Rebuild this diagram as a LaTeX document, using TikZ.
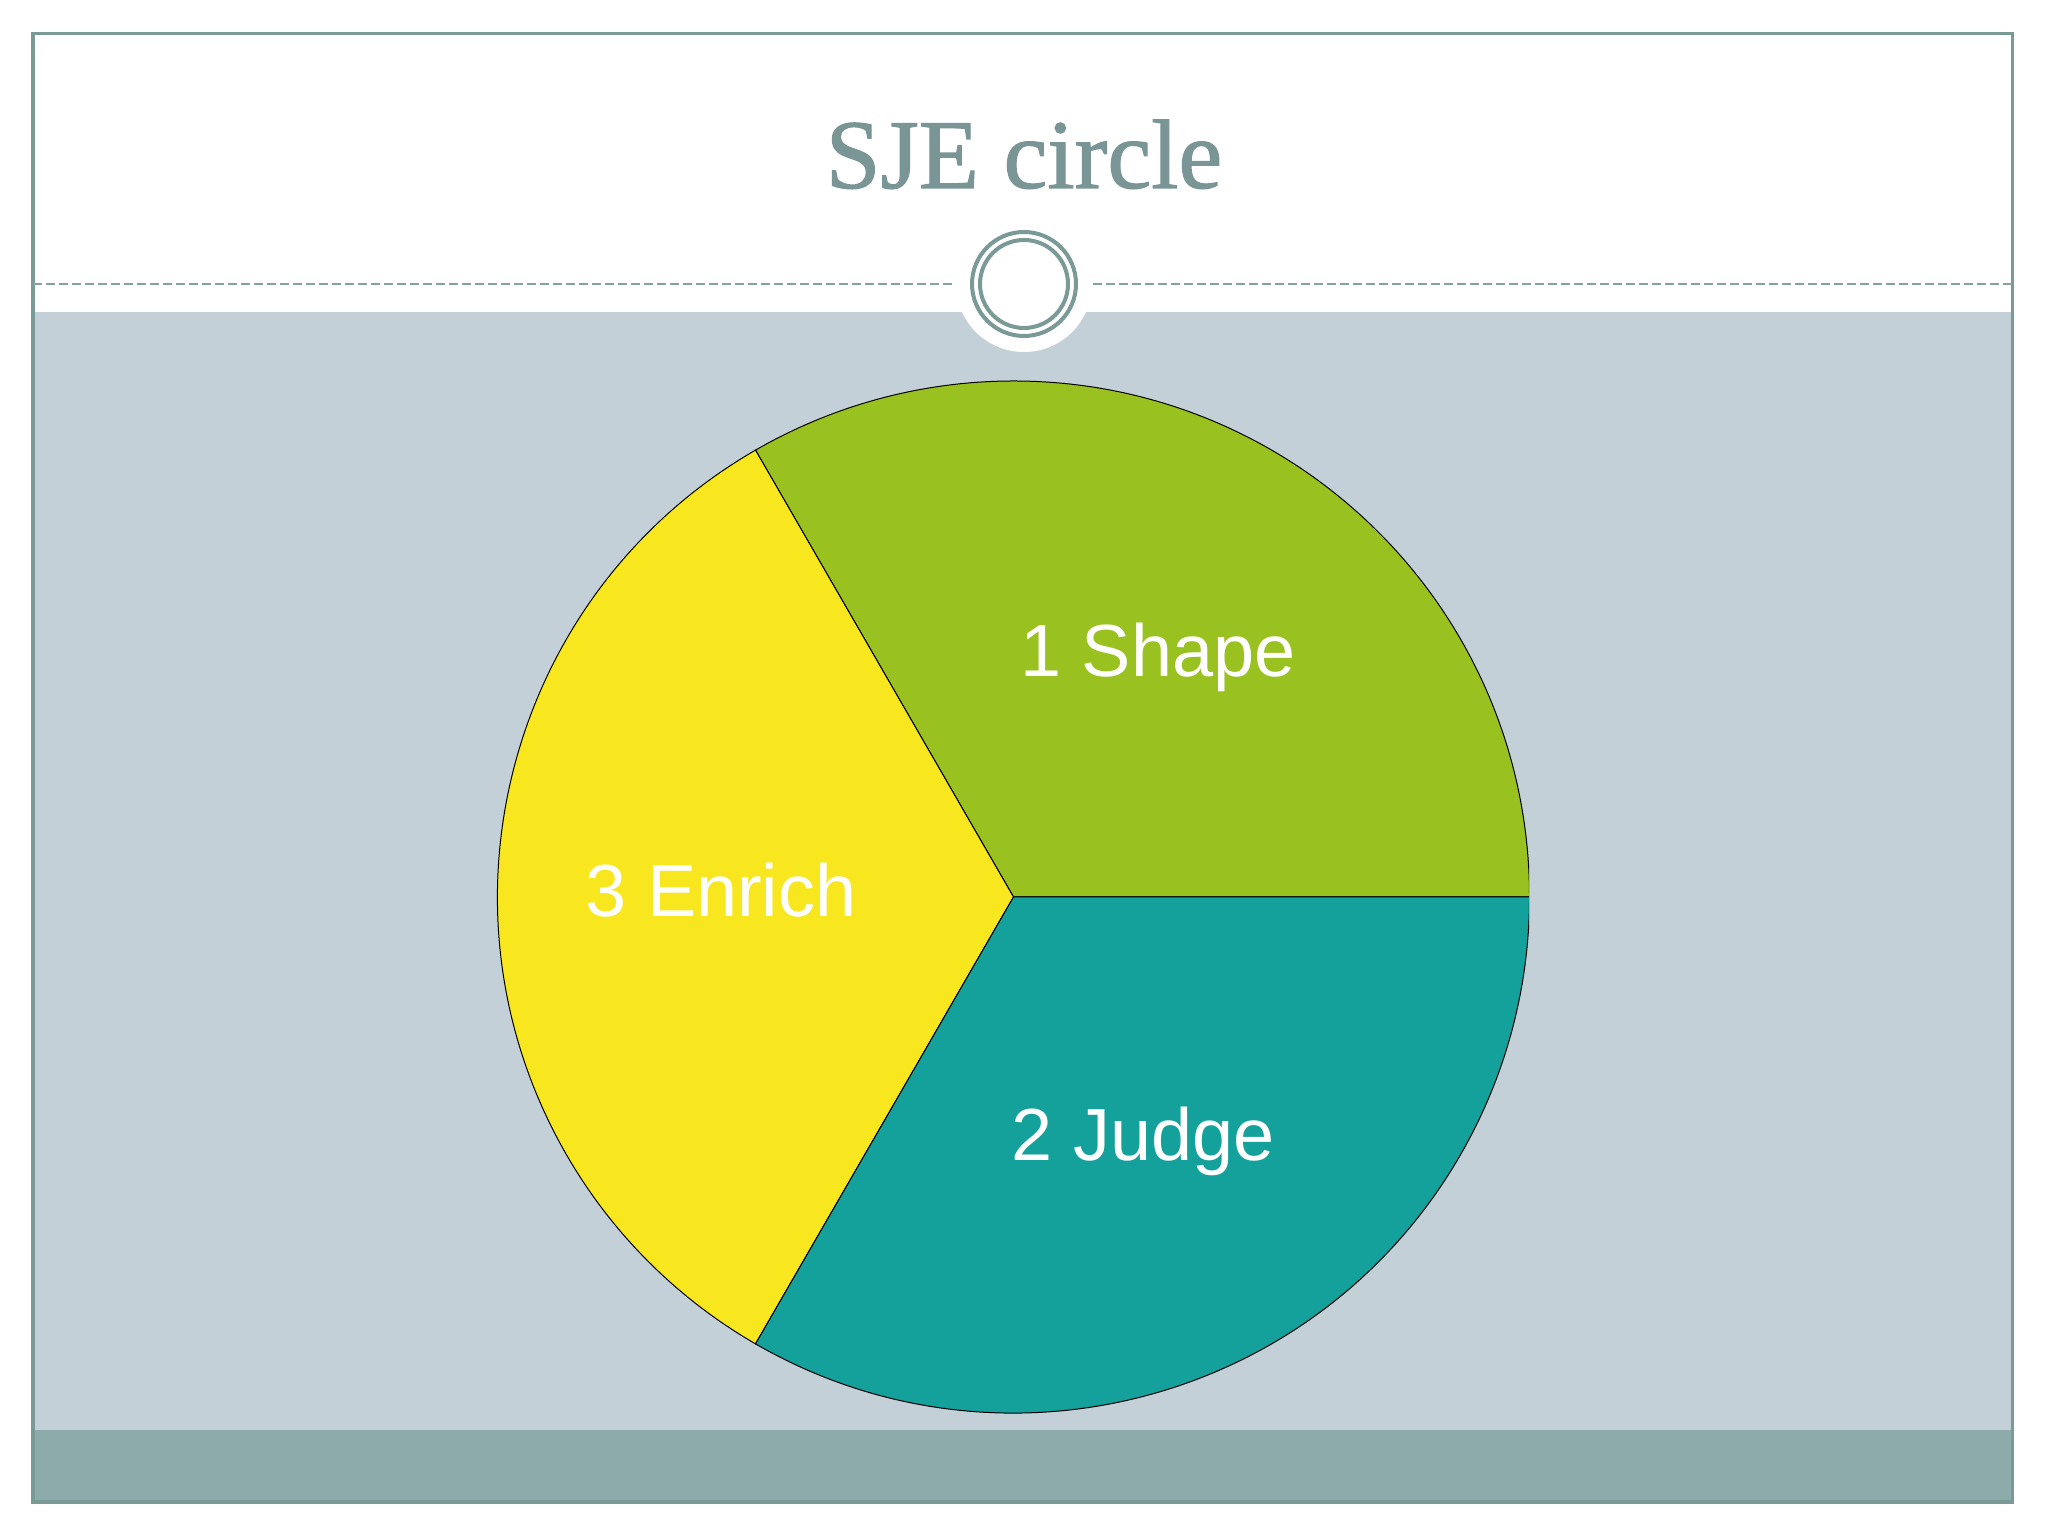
\documentclass[tikz,border=0pt]{standalone}
\usepackage{fontspec}
\setmainfont{Liberation Serif}
\setsansfont{Liberation Sans}
\newfontfamily\sjetitlefont[FakeBold=1.2]{Liberation Serif}
\definecolor{sjebody}{HTML}{C4D0D7}
\definecolor{sjeband}{HTML}{8DABAB}
\definecolor{sjeframe}{HTML}{7A9A98}
\definecolor{sjetitle}{HTML}{7A9595}
\definecolor{sjedash}{HTML}{87A0A0}
\definecolor{sjegreen}{HTML}{99C221}
\definecolor{sjeyellow}{HTML}{F8E71F}
\definecolor{sjeteal}{HTML}{14A09B}
\begin{document}
\begin{tikzpicture}[x=0.01cm,y=0.01cm,
	slice/.style={draw=black,line width=0.01cm},
	slicetext/.style={text=white,font=\sffamily\fontsize{21}{25}\selectfont}]
	\useasboundingbox (0,0) rectangle (2048,1536);
	\fill[white] (0,0) rectangle (2048,1536);
	\fill[sjebody] (33,106) rectangle (2012,1224); % body
	\fill[sjeband] (33,34) rectangle (2012,106); % bottom band
	\draw[sjeframe,line width=0.03cm] (33,34) rectangle (2012,1502); % frame
	\draw[sjedash,line width=0.025cm,dash pattern=on 0.09cm off 0.04cm] (33,1252) -- (954,1252) (1093,1252) -- (2012,1252); % rule
	\fill[white] (1024,1252) circle (68); % ornament
	\draw[sjeframe,line width=0.04cm] (1024,1252) circle (52) (1024,1252) circle (44);
	\node[anchor=base,text=sjetitle,font=\sjetitlefont\fontsize{28}{34}\selectfont] (title) at (1024,1348) {SJE circle};
	\begin{scope}
		\clip (0,0) rectangle (1529,1536);
		\filldraw[slice,fill=sjegreen] (1013.5,639) -- ++(0:516) arc (0:120:516) -- cycle; % shape
		\filldraw[slice,fill=sjeyellow] (1013.5,639) -- ++(120:516) arc (120:240:516) -- cycle; % enrich
		\filldraw[slice,fill=sjeteal] (1013.5,639) -- ++(240:516) arc (240:360:516) -- cycle; % judge
	\end{scope}
	\node[slicetext] (shape) at (1158,879) {1 Shape};
	\node[slicetext] (judge) at (1143,395) {2 Judge};
	\node[slicetext] (enrich) at (721,646) {3 Enrich};
\end{tikzpicture}
\end{document}
